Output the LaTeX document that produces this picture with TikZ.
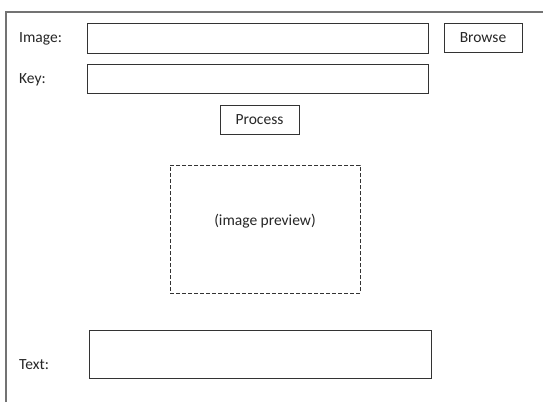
\documentclass[tikz,border=0pt]{standalone}
\usepackage{fontspec}
\setmainfont{Carlito}
\usetikzlibrary{positioning}

\begin{document}
\begin{tikzpicture}[x=1pt,y=-1pt,
    field/.style={draw=black!80,line width=0.9pt,inner sep=0pt},
    button/.style={field,font=\fontsize{15.5}{18}\selectfont,text=black!85},
    caption/.style={anchor=west,inner sep=0pt,text=black!85,font=\fontsize{15.5}{18}\selectfont}]
  \useasboundingbox[fill=white] (0,0) rectangle (543,402);
  % window frame
  \draw[black!55,line width=1.6pt] (6,402) -- (6,12) -- (543,12);
  % input rows
  \node[caption] (lbl-image) at (19,39) {Image:};
  \node[field,minimum width=341,minimum height=30] (in-image) at (257.5,38) {};
  \node[button,minimum width=78,minimum height=29] (btn-browse) at (483,37.5) {Browse};
  \node[caption] (lbl-key) at (19,80) {Key:};
  \node[field,minimum width=341,minimum height=29] (in-key) at (257.5,78.5) {};
  \node[button,minimum width=79,minimum height=29] (btn-process) at (259.5,119.5) {Process};
  % preview area
  \node[field,dash pattern=on 4pt off 2pt,minimum width=190,minimum height=128] (preview) at (265,229) {};
  \node[caption,anchor=center] (preview-text) at ([yshift=8pt]preview.center) {(image preview)};
  % output row
  \node[caption] (lbl-text) at (19,365) {Text:};
  \node[field,minimum width=342,minimum height=48] (out-text) at (260,354) {};
\end{tikzpicture}
\end{document}
